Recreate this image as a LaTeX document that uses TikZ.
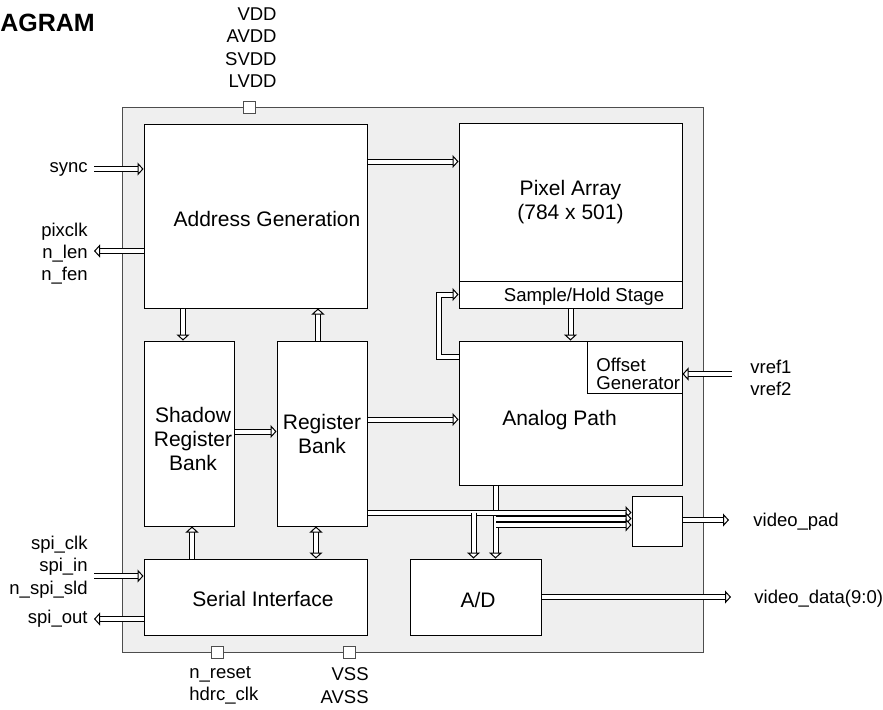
\documentclass[tikz,border=0pt]{standalone}
\usepackage{fontspec}
\setmainfont{Liberation Sans}
\usetikzlibrary{arrows.meta,positioning}
\definecolor{chipfill}{HTML}{EFEFEF}
\definecolor{chipline}{HTML}{4D4D4D}

\begin{document}
\begin{tikzpicture}[x=0.5pt, y=-0.5pt,
  font=\fontsize{10.5}{12}\selectfont,
  blk/.style={draw, fill=white, line width=0.5pt, inner sep=0pt},
  pad/.style={draw=chipline, fill=white, line width=0.5pt, minimum size=6pt, inner sep=0pt},
  lbl/.style={inner sep=0pt, font=\fontsize{9.25}{11.15}\selectfont},
  stxt/.style={inner sep=0pt, font=\fontsize{9.3}{9}\selectfont},
  txt/.style={inner sep=0pt},
  >={Triangle[length=3pt, width=6.5pt, fill=white]},
  bus/.style={->, line width=0.5pt, double=white, double distance=2pt}]
  \useasboundingbox (0,0) rectangle (883,709);

  \node[font=\bfseries\fontsize{12.5}{15}\selectfont, anchor=west, inner sep=0pt] (title) at (0,23) {AGRAM};

  % chip outline and pads
  \node[draw=chipline, fill=chipfill, line width=0.5pt, minimum width=290.5pt, minimum height=272.5pt] (chip) at (412.5,379.5) {};
  \node[pad] (pvdd) at (249.5,107) {};
  \node[pad] (preset) at (217,652) {};
  \node[pad] (pvss) at (349,652) {};

  % blocks
  \node[blk, minimum width=111.5pt, minimum height=92pt] (addr) at (255.5,216) {};
  \node[blk, minimum width=111.5pt, minimum height=79pt, align=center] (pixel) at (570.5,202) {Pixel Array\\(784 x 501)};
  \node[blk, minimum width=111.5pt, minimum height=13.5pt] (sh) at (570.5,294.5) {};
  \node[blk, minimum width=111.5pt, minimum height=72pt] (analog) at (570.5,413) {};
  \node[blk, minimum width=47.5pt, minimum height=26pt] (offset) at (634.5,367) {};
  \node[blk, minimum width=45pt, minimum height=92.5pt] (shadow) at (189,433.5) {};
  \node[blk, minimum width=45pt, minimum height=92.5pt, align=center] (regbank) at (322,433.5) {Register\\Bank};
  \node[blk, minimum width=111.5pt, minimum height=38pt] (serial) at (255.5,597) {};
  \node[blk, minimum width=65.5pt, minimum height=38pt] (ad) at (475.5,597) {};
  \node[blk, minimum width=25pt, minimum height=25pt] (vpad) at (657,521) {};

  % block texts
  \node[txt] (taddr) at (267,219) {Address Generation};
  \node[stxt] (tsh) at (584,297) {Sample/Hold Stage};
  \node[stxt, anchor=west, align=left] (toff) at (596,374) {Offset\\Generator};
  \node[txt] (tana) at (559.5,420) {Analog Path};
  \node[txt, align=center] (tshadow) at (193,439) {Shadow\\Register\\Bank};
  \node[txt] (tser) at (263,599) {Serial Interface};
  \node[txt] (tad) at (478,600) {A/D};

  % pin labels
  \node[lbl, anchor=east, align=right] (lvdd) at (277,47.5) {VDD\\AVDD\\SVDD\\LVDD};
  \node[lbl, anchor=east] (lsync) at (88,169) {sync};
  \node[lbl, anchor=east, align=right] (lpix) at (88,253.5) {pixclk\\n\_len\\n\_fen};
  \node[lbl, anchor=east, align=right] (lspi) at (88,567) {spi\_clk\\spi\_in\\n\_spi\_sld};
  \node[lbl, anchor=east] (lspiout) at (88,619) {spi\_out};
  \node[lbl, anchor=west, align=left] (lreset) at (189,685.5) {n\_reset\\hdrc\_clk};
  \node[lbl, anchor=east, align=right] (lvss) at (369,685.5) {VSS\\AVSS};
  \node[lbl, anchor=west, align=left] (lvref) at (750,378) {vref1\\vref2};
  \node[lbl, anchor=west] (lvpad) at (753,522) {video\_pad};
  \node[lbl, anchor=west] (lvdata) at (754,599) {video\_data(9:0)};

  % pin ends
  \coordinate (syncin) at (94,169);
  \coordinate (pixout) at (94,251);
  \coordinate (spiin) at (94,576);
  \coordinate (spiout) at (94,619);
  \coordinate (vrefin) at (732,374);
  \coordinate (vpadout) at (729,520);
  \coordinate (vdataout) at (731,597);

  \draw[bus] (syncin) -- (syncin -| addr.west);
  \draw[bus] (pixout -| addr.west) -- (pixout);
  \draw[bus] (spiin) -- (spiin -| serial.west);
  \draw[bus] (spiout -| serial.west) -- (spiout);
  \draw[bus] (vrefin) -- (vrefin -| offset.east);
  \draw[bus] (vpadout -| vpad.east) -- (vpadout);
  \draw[bus] (vdataout -| ad.east) -- (vdataout);

  % internal buses
  \draw[bus] ([yshift=-19pt]addr.north east) -- ([yshift=-19pt]addr.north east -| pixel.west);
  \draw[bus] ([xshift=-3pt]shadow.north |- addr.south) -- ([xshift=-3pt]shadow.north);
  \draw[bus] ([xshift=-2pt]regbank.north) -- ([xshift=-2pt]regbank.north |- addr.south);
  \draw[bus] ([yshift=1pt]shadow.east) -- ([yshift=1pt]shadow.east -| regbank.west);
  \draw[bus] ([yshift=7pt]regbank.east) -- ([yshift=7pt]regbank.east -| analog.west);
  \draw[bus] (sh.south) -- (analog.north);
  \draw[bus] ([yshift=-8pt]analog.north west) -- ++(-10pt,0) |- (sh.west);
  \draw[bus] ([xshift=1.5pt]shadow.south |- serial.north) -- ([xshift=1.5pt]shadow.south);
  \draw[bus, <->] ([xshift=-3pt]regbank.south) -- ([xshift=-3pt]regbank.south |- serial.north);

  % buses to video pad and A/D
  \coordinate (busa) at ([yshift=7pt]regbank.south east);
  \coordinate (b2) at ([yshift=1.25pt]vpad.west);
  \coordinate (b3) at ([yshift=-2pt]vpad.west);
  \coordinate (adin) at ([xshift=10pt]ad.north);
  \draw[bus] (adin |- analog.south) -- (adin);
  \draw[bus] (busa) -- (busa -| vpad.west);
  \draw[bus] (adin |- b2) -- (b2);
  \draw[bus] (adin |- b3) -- (b3);
  \draw[bus] ([xshift=-1pt]ad.north |- busa) -- ([xshift=-1pt]ad.north);
\end{tikzpicture}
\end{document}
